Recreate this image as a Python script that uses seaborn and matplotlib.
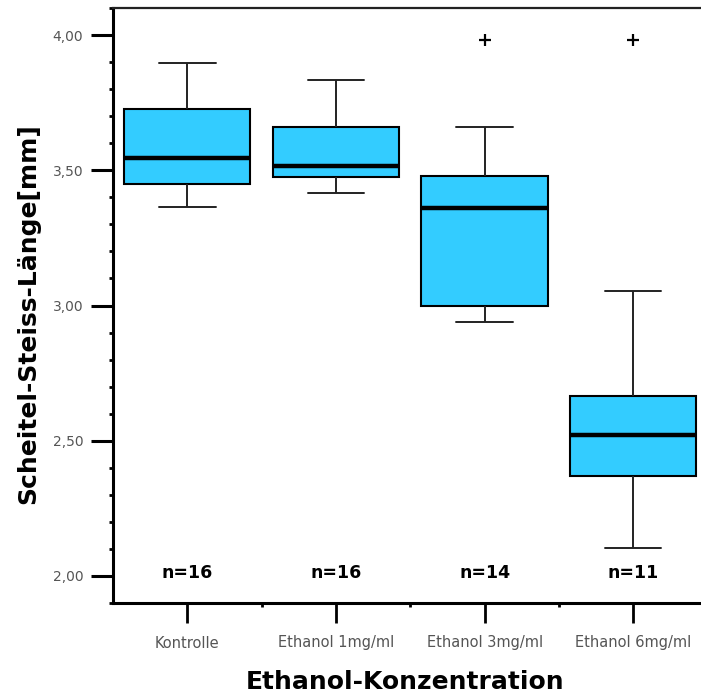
import pandas as pd
import matplotlib
matplotlib.use("Agg")
import matplotlib.pyplot as plt
from matplotlib.ticker import MultipleLocator, FixedLocator
import seaborn as sns

# values (five-number summaries per group)
categories = ["Kontrolle", "Ethanol 1mg/ml", "Ethanol 3mg/ml", "Ethanol 6mg/ml"]
whisker_low = [3.365, 3.415, 2.94, 2.105]
q1 = [3.45, 3.475, 3.0, 2.37]
median = [3.545, 3.515, 3.36, 2.52]
q3 = [3.725, 3.66, 3.48, 2.665]
whisker_high = [3.895, 3.835, 3.66, 3.055]
n_counts = [16, 16, 14, 11]

outlier_groups = ["Ethanol 3mg/ml", "Ethanol 6mg/ml"]
outlier_values = [3.98, 3.98]

y_ticks = [2.0, 2.5, 3.0, 3.5, 4.0]
y_ticklabels = ["2,00", "2,50", "3,00", "3,50", "4,00"]

# long table for seaborn: each group gets its summary points
rows = []
for i, g in enumerate(categories):
    for v in (whisker_low[i], q1[i], median[i], q3[i], whisker_high[i]):
        rows.append({"group": g, "value": v})
df = pd.DataFrame(rows)

sns.set_theme(style="ticks")
plt.rcParams['font.family'] = ['DejaVu Sans']

fig = plt.figure(figsize=(7.01, 6.95), dpi=100)
ax = fig.add_axes([113 / 701, 92 / 695, 588 / 701, 595 / 695])

sns.boxplot(data=df, x="group", y="value", order=categories, ax=ax,
            whis=(0, 100), width=0.85, color="#33CCFF", saturation=1,
            linecolor="black", linewidth=1.5, showfliers=False,
            capwidths=0.38,
            medianprops=dict(color="black", linewidth=3.2),
            whiskerprops=dict(color="#222222", linewidth=1.4),
            capprops=dict(color="#222222", linewidth=1.4))

sns.stripplot(x=outlier_groups, y=outlier_values, order=categories, ax=ax,
              jitter=False, marker="+", color="black", size=8.5, linewidth=1.6)

# n labels
for i, n in enumerate(n_counts):
    ax.text(i, 2.01, f"n={n}", ha="center", va="center",
            fontsize=12.5, fontweight="bold", color="black")

ax.set_xlim(-0.5, 3.456)
ax.set_ylim(1.9, 4.1)

ax.set_yticks(y_ticks)
ax.set_yticklabels(y_ticklabels)
ax.yaxis.set_minor_locator(MultipleLocator(0.1))
ax.xaxis.set_minor_locator(FixedLocator([0.5, 1.5, 2.5]))

ax.tick_params(axis="y", which="major", length=15.8, width=2.2, pad=5.5,
               labelsize=10, labelcolor="#555555", color="black")
ax.tick_params(axis="y", which="minor", length=3, width=2, color="black")
ax.tick_params(axis="x", which="major", length=14.4, width=2, pad=9,
               labelsize=10.5, labelcolor="#555555", color="black")
ax.tick_params(axis="x", which="minor", length=3, width=2, color="black")

for side in ["left", "bottom"]:
    ax.spines[side].set_linewidth(2.2)
    ax.spines[side].set_color("black")
ax.spines["top"].set_linewidth(1.6)
ax.spines["top"].set_color("#222222")
ax.spines["right"].set_visible(False)

ax.set_xlabel("Ethanol-Konzentration", fontsize=18, fontweight="bold", color="black")
ax.set_ylabel("Scheitel-Steiss-Länge[mm]", fontsize=18, fontweight="bold", color="black")
ax.xaxis.set_label_coords(0.497, -0.113)
ax.yaxis.set_label_coords(-0.124, 0.487)

fig.savefig("out.png", dpi=100, facecolor="white")
